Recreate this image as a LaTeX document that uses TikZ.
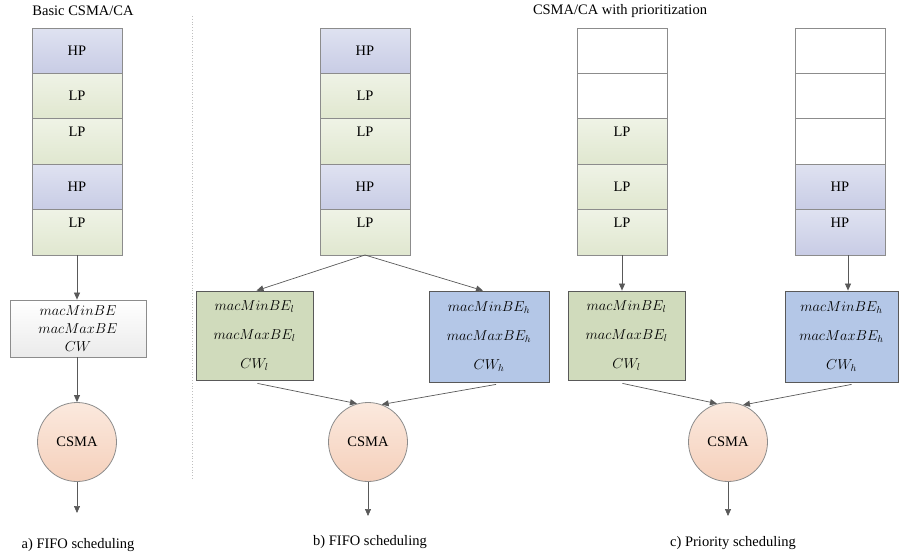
\documentclass[tikz,border=0pt]{standalone}
\usepackage{fontspec}
\setmainfont{Liberation Serif}
\newfontfamily\timesfam{Liberation Serif}
\usetikzlibrary{arrows.meta}
\definecolor{cellborder}{HTML}{8C8C8C}
\definecolor{conncol}{HTML}{595959}
\definecolor{hptop}{HTML}{DFE2F1}
\definecolor{hpbot}{HTML}{C8CCE5}
\definecolor{lptop}{HTML}{EFF3E6}
\definecolor{lpbot}{HTML}{E0E7CF}
\definecolor{gbfill}{HTML}{D0DBBC}
\definecolor{bbfill}{HTML}{B4C7E7}
\definecolor{cstop}{HTML}{FBE9DE}
\definecolor{csbot}{HTML}{F5D0BB}
\newcommand\uptxt[1]{\raisebox{9.5pt}[\height][\depth]{#1}}
\begin{document}
\begin{tikzpicture}[x=1pt,y=-1pt,
  txt/.style={font=\timesfam\fontsize{14.5}{17}\selectfont},
  cell/.style={draw=cellborder, line width=0.8pt, minimum width=90pt, minimum height=45.4pt, inner sep=0pt, outer sep=0pt, txt},
  hp/.style={cell, top color=hptop, bottom color=hpbot},
  lp/.style={cell, top color=lptop, bottom color=lpbot},
  em/.style={cell, fill=white},
  parbox/.style={draw=cellborder, line width=0.8pt, top color=white, bottom color=black!8, minimum width=136pt, minimum height=57pt, inner sep=0pt, align=center, font=\fontsize{14}{18}\selectfont},
  bigbox/.style={draw=conncol, line width=0.8pt, minimum height=89pt, inner sep=0pt, align=center, font=\fontsize{14.5}{29}\selectfont},
  gbox/.style={bigbox, fill=gbfill, minimum width=117pt},
  bbox/.style={bigbox, fill=bbfill, minimum height=91pt},
  csma/.style={circle, draw=cellborder, line width=0.8pt, top color=cstop, bottom color=csbot, minimum size=79pt, inner sep=0pt, txt},
  conn/.style={draw=conncol, line width=0.7pt, -{Triangle[length=7pt,width=6pt]}}
]
\useasboundingbox (0,0) rectangle (899,558);

% titles
\node[txt] (t1) at (83,11) {Basic CSMA/CA};
\node[txt] (t2) at (620,11) {CSMA/CA with prioritization};
\draw[black!25, dotted, line width=0.8pt] (192,16) -- (192,480);

% stack a
\node[hp] (a1) at (77,50.7) {HP};
\node[lp] (a2) at (77,96.1) {LP};
\node[lp] (a3) at (77,141.5) {\uptxt{LP}};
\node[hp] (a4) at (77,186.9) {HP};
\node[lp] (a5) at (77,232.3) {\uptxt{LP}};

% stack b
\node[hp] (b1) at (365,50.7) {HP};
\node[lp] (b2) at (365,96.1) {LP};
\node[lp] (b3) at (365,141.5) {\uptxt{LP}};
\node[hp] (b4) at (365,186.9) {HP};
\node[lp] (b5) at (365,232.3) {\uptxt{LP}};

% stack c (LP queue)
\node[em] (c1) at (622,50.7) {};
\node[em] (c2) at (622,96.1) {};
\node[lp] (c3) at (622,141.5) {\uptxt{LP}};
\node[lp] (c4) at (622,186.9) {LP};
\node[lp] (c5) at (622,232.3) {\uptxt{LP}};

% stack d (HP queue)
\node[em] (d1) at (840,50.7) {};
\node[em] (d2) at (840,96.1) {};
\node[em] (d3) at (840,141.5) {};
\node[hp] (d4) at (840,186.9) {HP};
\node[hp] (d5) at (840,232.3) {\uptxt{HP}};

% parameter boxes
\node[parbox] (pa) at (78,328.5) {$macMinBE$\\$macMaxBE$\\$CW$};
\node[gbox] (gb) at (254.5,335.5) {$macMinBE_l$\\$macMaxBE_l$\\$CW_l$};
\node[bbox, minimum width=120pt] (bb) at (489,336.5) {$macMinBE_h$\\$macMaxBE_h$\\$CW_h$};
\node[gbox] (gc) at (626.5,335.5) {$macMinBE_l$\\$macMaxBE_l$\\$CW_l$};
\node[bbox, minimum width=113pt] (bc) at (841.5,336.5) {$macMinBE_h$\\$macMaxBE_h$\\$CW_h$};

% CSMA circles
\node[csma] (ca) at (77,442) {CSMA};
\node[csma] (cb) at (368,442) {CSMA};
\node[csma] (cc) at (728,442) {CSMA};

\coordinate (oa) at (77,513);
\coordinate (ob) at (368,516);
\coordinate (oc) at (728,516);

% connectors a
\draw[conn] (a5.south) -- (a5.south |- pa.north);
\draw[conn] (a5.south |- pa.south) -- (ca.north);
\draw[conn] (ca.south) -- (oa);

% connectors b
\draw[conn] (b5.south) -- ([xshift=2pt]gb.north);
\draw[conn] (b5.south) -- ([xshift=-6pt]bb.north);
\draw[conn] ([xshift=3pt,yshift=-3pt]gb.south) -- (cb.106);
\draw[conn] ([xshift=7pt,yshift=-2pt]bb.south) -- (cb.70);
\draw[conn] (cb.south) -- (ob);

% connectors c
\draw[conn] (c5.south) -- (c5.south |- gc.north);
\draw[conn] ([xshift=8pt]d5.south) -- ([xshift=8pt]d5.south |- bc.north);
\draw[conn] ([xshift=-4pt,yshift=-3pt]gc.south) -- (cc.106);
\draw[conn] ([xshift=10pt,yshift=-2pt]bc.south) -- (cc.68);
\draw[conn] (cc.south) -- (oc);

% captions
\node[txt] (la) at (78,545) {a) FIFO scheduling};
\node[txt] (lb) at (370,542) {b) FIFO scheduling};
\node[txt] (lc) at (733,543) {c) Priority scheduling};
\end{tikzpicture}
\end{document}
